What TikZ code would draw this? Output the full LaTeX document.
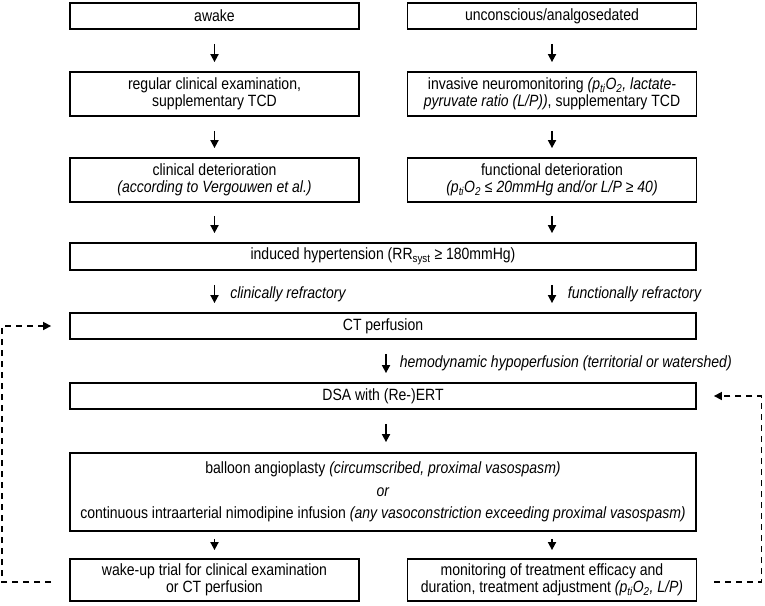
\documentclass[tikz,border=0pt]{standalone}
\usepackage{fontspec}
\setmainfont{Liberation Sans}[FakeStretch=0.86]
\usetikzlibrary{arrows.meta,calc}
\tikzset{
  box/.style={draw=black, line width=1.8pt, align=center, inner sep=0pt,
    font=\fontsize{16.3pt}{17.5pt}\selectfont},
  sidebox/.style={box, minimum width=289pt},
  fullbox/.style={box, minimum width=626pt},
  arr/.style={-{Triangle[length=8pt,width=8pt]}, line width=1.7pt},
  darr/.style={-{Triangle[length=8pt,width=8pt]}, line width=1.6pt, dash pattern=on 6pt off 5pt},
  lab/.style={right, inner sep=0pt, xshift=15pt, font=\fontsize{16.3pt}{17.5pt}\selectfont\itshape}
}
\begin{document}
\begin{tikzpicture}[x=1pt,y=-1pt]
\useasboundingbox (0,0) rectangle (765,605);
% nodes
\node[sidebox, minimum height=26pt] (awake) at (214.5,16) {awake};
\node[sidebox, minimum height=26pt] (uncon) at (552,16) {unconscious/analgosedated};
\node[sidebox, minimum height=44pt] (exam) at (214.5,94) {regular clinical examination,\\ supplementary TCD};
\node[sidebox, minimum height=44pt] (neuro) at (552,94) {invasive neuromonitoring \textit{(p\textsubscript{ti}O\textsubscript{2}, lactate-}\\ \textit{pyruvate ratio (L/P))}, supplementary TCD};
\node[sidebox, minimum height=44pt] (clin) at (214.5,180) {clinical deterioration\\ \textit{(according to Vergouwen et al.)}};
\node[sidebox, minimum height=44pt] (func) at (552,180) {functional deterioration\\ \textit{(p\textsubscript{ti}O\textsubscript{2} ≤ 20mmHg and/or L/P ≥ 40)}};
\node[fullbox, minimum height=27pt] (induced) at (383,256.5) {induced hypertension (RR\textsubscript{syst} ≥ 180mmHg)};
\node[fullbox, minimum height=26pt] (ct) at (383,326) {CT perfusion};
\node[fullbox, minimum height=26pt] (dsa) at (383,396) {DSA with (Re-)ERT};
\node[fullbox, minimum height=78pt] (balloon) at (383,492) {balloon angioplasty \textit{(circumscribed, proximal vasospasm)}\\[5pt] \textit{or}\\[5pt] continuous intraarterial nimodipine infusion \textit{(any vasoconstriction exceeding proximal vasospasm)}};
\node[sidebox, minimum height=42pt] (wake) at (214.5,580) {wake-up trial for clinical examination\\ or CT perfusion};
\node[sidebox, minimum height=42pt] (monitor) at (552,580) {monitoring of treatment efficacy and\\ duration, treatment adjustment \textit{(p\textsubscript{ti}O\textsubscript{2}, L/P)}};
\coordinate (mid) at (386,0);
% arrows
\draw[arr] ($(awake.south)+(0,14)$) -- ($(exam.north)+(0,-9)$);
\draw[arr] ($(uncon.south)+(0,14)$) -- ($(neuro.north)+(0,-9)$);
\draw[arr] ($(exam.south)+(0,14)$) -- ($(clin.north)+(0,-9)$);
\draw[arr] ($(neuro.south)+(0,14)$) -- ($(func.north)+(0,-9)$);
\draw[arr] ($(clin.south)+(0,13)$) -- ($(induced.north -| clin.north)+(0,-9)$);
\draw[arr] ($(func.south)+(0,13)$) -- ($(induced.north -| func.north)+(0,-9)$);
\draw[arr] ($(induced.south -| clin.south)+(0,14)$) -- node[lab] {clinically refractory} ($(ct.north -| clin.south)+(0,-9)$);
\draw[arr] ($(induced.south -| func.south)+(0,14)$) -- node[lab] {functionally refractory} ($(ct.north -| func.south)+(0,-9)$);
\draw[arr] ($(ct.south -| mid)+(0,14)$) -- node[lab, xshift=-2pt] {hemodynamic hypoperfusion (territorial or watershed)} ($(dsa.north -| mid)+(0,-9)$);
\draw[arr] ($(dsa.south -| mid)+(0,14)$) -- ($(balloon.north -| mid)+(0,-10)$);
\draw[arr] ($(balloon.south -| wake.north)+(0,7)$) -- ($(wake.north)+(0,-8)$);
\draw[arr] ($(balloon.south -| monitor.north)+(0,7)$) -- ($(monitor.north)+(0,-8)$);
% dashed feedback loops
\draw[darr] ($(wake.west)+(-18,2)$) -- ++(-49,0) |- ($(ct.west)+(-18,0)$);
\draw[darr] ($(monitor.east)+(17,2)$) -- ++(47,0) |- ($(dsa.east)+(17,0)$);
\end{tikzpicture}
\end{document}
